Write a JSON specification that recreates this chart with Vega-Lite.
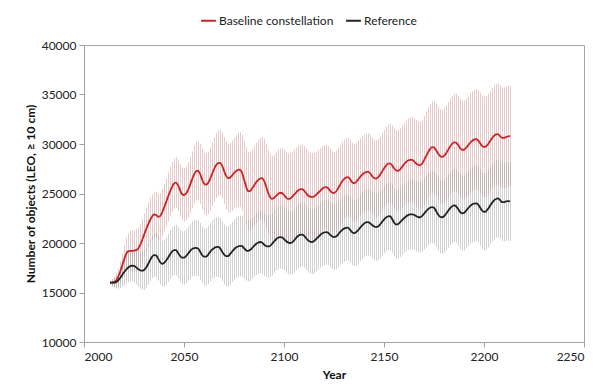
{
  "$schema": "https://vega.github.io/schema/vega-lite/v6.json",
  "autosize": "none",
  "width": 500,
  "height": 297,
  "padding": {"left": 84, "top": 45, "right": 20, "bottom": 48},
  "background": "white",
  "config": {
    "view": {"stroke": "#a6a6a6", "strokeWidth": 1},
    "font": "Lato",
    "axis": {"grid": false, "domainColor": "#a0a0a0", "tickColor": "#a0a0a0", "tickSize": 5, "labelFont": "Lato", "labelFontSize": 12, "labelColor": "#222222", "titleFont": "Lato", "titleFontSize": 12, "titleFontWeight": "bold", "titleColor": "#111111"},
    "axisX": {"labelPadding": 4, "titlePadding": 7},
    "axisY": {"labelPadding": 3, "titlePadding": 4}
  },
  "data": {"values": [
{"t":2013,"b":16000,"be":200,"r":16000,"re":150},
{"t":2014,"b":16000,"be":370,"r":16000,"re":320},
{"t":2015,"b":16050,"be":530,"r":16000,"re":480},
{"t":2016,"b":16200,"be":700,"r":16050,"re":650},
{"t":2017,"b":16550,"be":900,"r":16200,"re":810},
{"t":2018,"b":17050,"be":1100,"r":16450,"re":980},
{"t":2019,"b":17650,"be":1300,"r":16750,"re":1140},
{"t":2020,"b":18300,"be":1500,"r":17050,"re":1300},
{"t":2021,"b":18850,"be":1670,"r":17300,"re":1370},
{"t":2022,"b":19150,"be":1830,"r":17500,"re":1440},
{"t":2023,"b":19200,"be":2000,"r":17650,"re":1510},
{"t":2024,"b":19200,"be":2050,"r":17700,"re":1580},
{"t":2025,"b":19220,"be":2100,"r":17680,"re":1650},
{"t":2026,"b":19280,"be":2120,"r":17550,"re":1720},
{"t":2027,"b":19400,"be":2140,"r":17380,"re":1790},
{"t":2028,"b":19750,"be":2160,"r":17250,"re":1860},
{"t":2029,"b":20250,"be":2180,"r":17200,"re":1930},
{"t":2030,"b":20800,"be":2200,"r":17280,"re":2000},
{"t":2031,"b":21350,"be":2220,"r":17500,"re":2035},
{"t":2032,"b":21850,"be":2240,"r":17850,"re":2070},
{"t":2033,"b":22300,"be":2260,"r":18250,"re":2105},
{"t":2034,"b":22650,"be":2280,"r":18600,"re":2140},
{"t":2035,"b":22880,"be":2300,"r":18780,"re":2175},
{"t":2036,"b":22850,"be":2320,"r":18750,"re":2210},
{"t":2037,"b":22650,"be":2340,"r":18450,"re":2245},
{"t":2038,"b":22700,"be":2360,"r":18080,"re":2280},
{"t":2039,"b":23050,"be":2380,"r":17900,"re":2315},
{"t":2040,"b":23550,"be":2400,"r":17980,"re":2350},
{"t":2041,"b":24100,"be":2430,"r":18200,"re":2385},
{"t":2042,"b":24650,"be":2460,"r":18500,"re":2420},
{"t":2043,"b":25200,"be":2490,"r":18850,"re":2455},
{"t":2044,"b":25650,"be":2520,"r":19120,"re":2490},
{"t":2045,"b":26000,"be":2550,"r":19280,"re":2525},
{"t":2046,"b":26100,"be":2580,"r":19270,"re":2560},
{"t":2047,"b":25850,"be":2610,"r":19000,"re":2595},
{"t":2048,"b":25350,"be":2640,"r":18700,"re":2630},
{"t":2049,"b":24950,"be":2670,"r":18520,"re":2665},
{"t":2050,"b":24850,"be":2700,"r":18520,"re":2700},
{"t":2051,"b":25000,"be":2740,"r":18680,"re":2720},
{"t":2052,"b":25350,"be":2780,"r":18920,"re":2740},
{"t":2053,"b":25850,"be":2820,"r":19180,"re":2760},
{"t":2054,"b":26400,"be":2860,"r":19380,"re":2780},
{"t":2055,"b":26900,"be":2900,"r":19480,"re":2800},
{"t":2056,"b":27250,"be":2940,"r":19500,"re":2820},
{"t":2057,"b":27300,"be":2980,"r":19450,"re":2840},
{"t":2058,"b":27000,"be":3020,"r":19150,"re":2860},
{"t":2059,"b":26450,"be":3060,"r":18800,"re":2880},
{"t":2060,"b":26000,"be":3100,"r":18620,"re":2900},
{"t":2061,"b":25900,"be":3130,"r":18620,"re":2920},
{"t":2062,"b":26050,"be":3150,"r":18800,"re":2940},
{"t":2063,"b":26450,"be":3180,"r":19080,"re":2960},
{"t":2064,"b":26950,"be":3200,"r":19320,"re":2980},
{"t":2065,"b":27450,"be":3230,"r":19480,"re":3000},
{"t":2066,"b":27850,"be":3250,"r":19580,"re":3010},
{"t":2067,"b":28080,"be":3280,"r":19600,"re":3010},
{"t":2068,"b":28100,"be":3300,"r":19480,"re":3020},
{"t":2069,"b":27850,"be":3340,"r":19150,"re":3020},
{"t":2070,"b":27300,"be":3390,"r":18850,"re":3030},
{"t":2071,"b":26800,"be":3430,"r":18670,"re":3040},
{"t":2072,"b":26550,"be":3470,"r":18680,"re":3040},
{"t":2073,"b":26600,"be":3510,"r":18870,"re":3050},
{"t":2074,"b":26800,"be":3560,"r":19120,"re":3050},
{"t":2075,"b":27050,"be":3600,"r":19360,"re":3060},
{"t":2076,"b":27250,"be":3660,"r":19540,"re":3060},
{"t":2077,"b":27380,"be":3720,"r":19650,"re":3070},
{"t":2078,"b":27400,"be":3780,"r":19700,"re":3080},
{"t":2079,"b":27100,"be":3840,"r":19680,"re":3080},
{"t":2080,"b":26450,"be":3900,"r":19480,"re":3090},
{"t":2081,"b":25750,"be":3930,"r":19270,"re":3090},
{"t":2082,"b":25250,"be":3960,"r":19200,"re":3100},
{"t":2083,"b":25250,"be":3990,"r":19290,"re":3110},
{"t":2084,"b":25500,"be":4020,"r":19480,"re":3110},
{"t":2085,"b":25800,"be":4050,"r":19700,"re":3120},
{"t":2086,"b":26100,"be":4080,"r":19900,"re":3120},
{"t":2087,"b":26350,"be":4110,"r":20030,"re":3130},
{"t":2088,"b":26500,"be":4140,"r":20100,"re":3130},
{"t":2089,"b":26550,"be":4170,"r":20050,"re":3140},
{"t":2090,"b":26300,"be":4200,"r":19850,"re":3150},
{"t":2091,"b":25750,"be":4240,"r":19700,"re":3150},
{"t":2092,"b":25100,"be":4280,"r":19650,"re":3160},
{"t":2093,"b":24650,"be":4320,"r":19700,"re":3160},
{"t":2094,"b":24450,"be":4360,"r":19900,"re":3170},
{"t":2095,"b":24550,"be":4400,"r":20150,"re":3170},
{"t":2096,"b":24750,"be":4440,"r":20380,"re":3180},
{"t":2097,"b":24950,"be":4480,"r":20530,"re":3190},
{"t":2098,"b":25050,"be":4520,"r":20600,"re":3190},
{"t":2099,"b":25050,"be":4560,"r":20580,"re":3200},
{"t":2100,"b":24850,"be":4600,"r":20400,"re":3200},
{"t":2101,"b":24600,"be":4590,"r":20200,"re":3200},
{"t":2102,"b":24450,"be":4580,"r":20060,"re":3210},
{"t":2103,"b":24480,"be":4570,"r":20000,"re":3210},
{"t":2104,"b":24650,"be":4560,"r":20050,"re":3220},
{"t":2105,"b":24880,"be":4550,"r":20250,"re":3220},
{"t":2106,"b":25100,"be":4540,"r":20500,"re":3220},
{"t":2107,"b":25300,"be":4530,"r":20700,"re":3230},
{"t":2108,"b":25420,"be":4520,"r":20820,"re":3230},
{"t":2109,"b":25450,"be":4510,"r":20850,"re":3240},
{"t":2110,"b":25300,"be":4500,"r":20750,"re":3240},
{"t":2111,"b":25050,"be":4480,"r":20500,"re":3240},
{"t":2112,"b":24800,"be":4460,"r":20280,"re":3250},
{"t":2113,"b":24680,"be":4440,"r":20130,"re":3250},
{"t":2114,"b":24650,"be":4420,"r":20100,"re":3260},
{"t":2115,"b":24700,"be":4400,"r":20200,"re":3260},
{"t":2116,"b":24850,"be":4380,"r":20380,"re":3260},
{"t":2117,"b":25050,"be":4360,"r":20580,"re":3270},
{"t":2118,"b":25250,"be":4340,"r":20780,"re":3270},
{"t":2119,"b":25450,"be":4320,"r":20950,"re":3280},
{"t":2120,"b":25600,"be":4300,"r":21060,"re":3280},
{"t":2121,"b":25650,"be":4270,"r":21100,"re":3280},
{"t":2122,"b":25550,"be":4240,"r":21050,"re":3290},
{"t":2123,"b":25300,"be":4210,"r":20850,"re":3290},
{"t":2124,"b":25100,"be":4180,"r":20680,"re":3300},
{"t":2125,"b":25050,"be":4150,"r":20600,"re":3300},
{"t":2126,"b":25200,"be":4120,"r":20660,"re":3300},
{"t":2127,"b":25500,"be":4090,"r":20850,"re":3310},
{"t":2128,"b":25850,"be":4060,"r":21100,"re":3310},
{"t":2129,"b":26200,"be":4030,"r":21300,"re":3320},
{"t":2130,"b":26450,"be":4000,"r":21450,"re":3320},
{"t":2131,"b":26600,"be":3990,"r":21530,"re":3320},
{"t":2132,"b":26650,"be":3980,"r":21550,"re":3330},
{"t":2133,"b":26450,"be":3970,"r":21350,"re":3330},
{"t":2134,"b":26150,"be":3960,"r":21100,"re":3340},
{"t":2135,"b":26050,"be":3950,"r":21000,"re":3340},
{"t":2136,"b":26150,"be":3940,"r":21080,"re":3340},
{"t":2137,"b":26400,"be":3930,"r":21280,"re":3350},
{"t":2138,"b":26650,"be":3920,"r":21520,"re":3350},
{"t":2139,"b":26880,"be":3910,"r":21760,"re":3360},
{"t":2140,"b":27050,"be":3900,"r":21960,"re":3360},
{"t":2141,"b":27170,"be":3900,"r":22080,"re":3360},
{"t":2142,"b":27200,"be":3900,"r":22100,"re":3370},
{"t":2143,"b":27050,"be":3900,"r":22000,"re":3370},
{"t":2144,"b":26780,"be":3900,"r":21820,"re":3380},
{"t":2145,"b":26560,"be":3900,"r":21680,"re":3380},
{"t":2146,"b":26500,"be":3900,"r":21600,"re":3380},
{"t":2147,"b":26620,"be":3900,"r":21660,"re":3390},
{"t":2148,"b":26880,"be":3900,"r":21860,"re":3390},
{"t":2149,"b":27200,"be":3900,"r":22120,"re":3400},
{"t":2150,"b":27530,"be":3900,"r":22370,"re":3400},
{"t":2151,"b":27820,"be":3930,"r":22560,"re":3410},
{"t":2152,"b":28000,"be":3960,"r":22680,"re":3420},
{"t":2153,"b":28050,"be":3990,"r":22700,"re":3430},
{"t":2154,"b":27850,"be":4020,"r":22450,"re":3440},
{"t":2155,"b":27550,"be":4050,"r":22080,"re":3450},
{"t":2156,"b":27350,"be":4080,"r":21870,"re":3460},
{"t":2157,"b":27300,"be":4110,"r":21900,"re":3470},
{"t":2158,"b":27420,"be":4140,"r":22080,"re":3480},
{"t":2159,"b":27680,"be":4170,"r":22300,"re":3490},
{"t":2160,"b":27950,"be":4200,"r":22500,"re":3500},
{"t":2161,"b":28180,"be":4230,"r":22680,"re":3500},
{"t":2162,"b":28330,"be":4260,"r":22820,"re":3510},
{"t":2163,"b":28400,"be":4290,"r":22890,"re":3520},
{"t":2164,"b":28400,"be":4320,"r":22900,"re":3530},
{"t":2165,"b":28250,"be":4350,"r":22850,"re":3540},
{"t":2166,"b":28050,"be":4380,"r":22720,"re":3550},
{"t":2167,"b":27900,"be":4410,"r":22620,"re":3560},
{"t":2168,"b":27850,"be":4440,"r":22600,"re":3570},
{"t":2169,"b":28000,"be":4470,"r":22720,"re":3580},
{"t":2170,"b":28350,"be":4500,"r":22950,"re":3590},
{"t":2171,"b":28750,"be":4530,"r":23200,"re":3600},
{"t":2172,"b":29150,"be":4560,"r":23420,"re":3610},
{"t":2173,"b":29480,"be":4590,"r":23560,"re":3620},
{"t":2174,"b":29680,"be":4620,"r":23620,"re":3630},
{"t":2175,"b":29650,"be":4650,"r":23560,"re":3640},
{"t":2176,"b":29400,"be":4680,"r":23250,"re":3640},
{"t":2177,"b":29050,"be":4710,"r":22900,"re":3650},
{"t":2178,"b":28780,"be":4740,"r":22650,"re":3660},
{"t":2179,"b":28700,"be":4770,"r":22600,"re":3670},
{"t":2180,"b":28800,"be":4800,"r":22700,"re":3680},
{"t":2181,"b":29050,"be":4820,"r":22950,"re":3690},
{"t":2182,"b":29380,"be":4840,"r":23230,"re":3700},
{"t":2183,"b":29720,"be":4860,"r":23500,"re":3710},
{"t":2184,"b":30000,"be":4880,"r":23700,"re":3720},
{"t":2185,"b":30170,"be":4900,"r":23800,"re":3730},
{"t":2186,"b":30150,"be":4920,"r":23720,"re":3740},
{"t":2187,"b":29920,"be":4940,"r":23450,"re":3750},
{"t":2188,"b":29600,"be":4960,"r":23150,"re":3760},
{"t":2189,"b":29420,"be":4980,"r":23000,"re":3770},
{"t":2190,"b":29420,"be":5000,"r":23040,"re":3780},
{"t":2191,"b":29600,"be":5010,"r":23250,"re":3790},
{"t":2192,"b":29850,"be":5020,"r":23500,"re":3790},
{"t":2193,"b":30100,"be":5030,"r":23720,"re":3800},
{"t":2194,"b":30300,"be":5040,"r":23880,"re":3810},
{"t":2195,"b":30440,"be":5050,"r":23970,"re":3820},
{"t":2196,"b":30500,"be":5060,"r":24000,"re":3830},
{"t":2197,"b":30380,"be":5070,"r":23900,"re":3840},
{"t":2198,"b":30100,"be":5080,"r":23600,"re":3850},
{"t":2199,"b":29820,"be":5090,"r":23300,"re":3860},
{"t":2200,"b":29700,"be":5100,"r":23150,"re":3870},
{"t":2201,"b":29760,"be":5100,"r":23200,"re":3880},
{"t":2202,"b":29980,"be":5100,"r":23450,"re":3890},
{"t":2203,"b":30280,"be":5100,"r":23750,"re":3900},
{"t":2204,"b":30580,"be":5100,"r":24050,"re":3910},
{"t":2205,"b":30820,"be":5100,"r":24300,"re":3920},
{"t":2206,"b":30970,"be":5100,"r":24450,"re":3930},
{"t":2207,"b":31000,"be":5100,"r":24500,"re":3940},
{"t":2208,"b":30800,"be":5100,"r":24350,"re":3940},
{"t":2209,"b":30620,"be":5100,"r":24120,"re":3950},
{"t":2210,"b":30620,"be":5100,"r":24120,"re":3960},
{"t":2211,"b":30700,"be":5100,"r":24200,"re":3970},
{"t":2212,"b":30780,"be":5100,"r":24230,"re":3980},
{"t":2213,"b":30800,"be":5100,"r":24200,"re":4000}
  ]},
  "layer": [
    {
      "mark": {"type": "errorbar", "color": "#d4aaaa", "opacity": 0.6, "thickness": 1, "rule": {"xOffset": 0.5}},
      "encoding": {
        "x": {"field": "t", "type": "quantitative", "title": "Year", "scale": {"domain": [2000, 2250], "nice": false}, "axis": {"values": [2000, 2050, 2100, 2150, 2200, 2250], "format": "d"}},
        "y": {"field": "b", "type": "quantitative", "title": "Number of objects (LEO, ≥ 10 cm)", "scale": {"domain": [10000, 40000], "nice": false}, "axis": {"values": [10000, 15000, 20000, 25000, 30000, 35000, 40000], "format": "d"}},
        "yError": {"field": "be"}
      }
    },
    {
      "mark": {"type": "errorbar", "color": "#9a9a9a", "opacity": 0.45, "thickness": 1, "rule": {"xOffset": 0.5}},
      "encoding": {
        "x": {"field": "t", "type": "quantitative", "title": "Year"},
        "y": {"field": "r", "type": "quantitative", "title": "Number of objects (LEO, ≥ 10 cm)"},
        "yError": {"field": "re"}
      }
    },
    {
      "mark": {"type": "line", "strokeWidth": 1.8, "interpolate": "monotone"},
      "encoding": {
        "x": {"field": "t", "type": "quantitative", "title": "Year"},
        "y": {"field": "b", "type": "quantitative", "title": "Number of objects (LEO, ≥ 10 cm)"},
        "color": {"datum": "Baseline constellation", "type": "nominal", "scale": {"domain": ["Baseline constellation", "Reference"], "range": ["#c0282d", "#222222"]},
          "legend": {"orient": "none", "legendX": 116, "legendY": -33, "direction": "horizontal", "title": null, "symbolType": "stroke", "symbolStrokeWidth": 2, "symbolSize": 220, "labelFont": "Lato", "labelFontSize": 12, "labelColor": "#222222", "columnPadding": 8, "labelOffset": 2}}
      }
    },
    {
      "mark": {"type": "line", "strokeWidth": 1.8, "interpolate": "monotone"},
      "encoding": {
        "x": {"field": "t", "type": "quantitative", "title": "Year"},
        "y": {"field": "r", "type": "quantitative", "title": "Number of objects (LEO, ≥ 10 cm)"},
        "color": {"datum": "Reference", "type": "nominal"}
      }
    }
  ]
}
